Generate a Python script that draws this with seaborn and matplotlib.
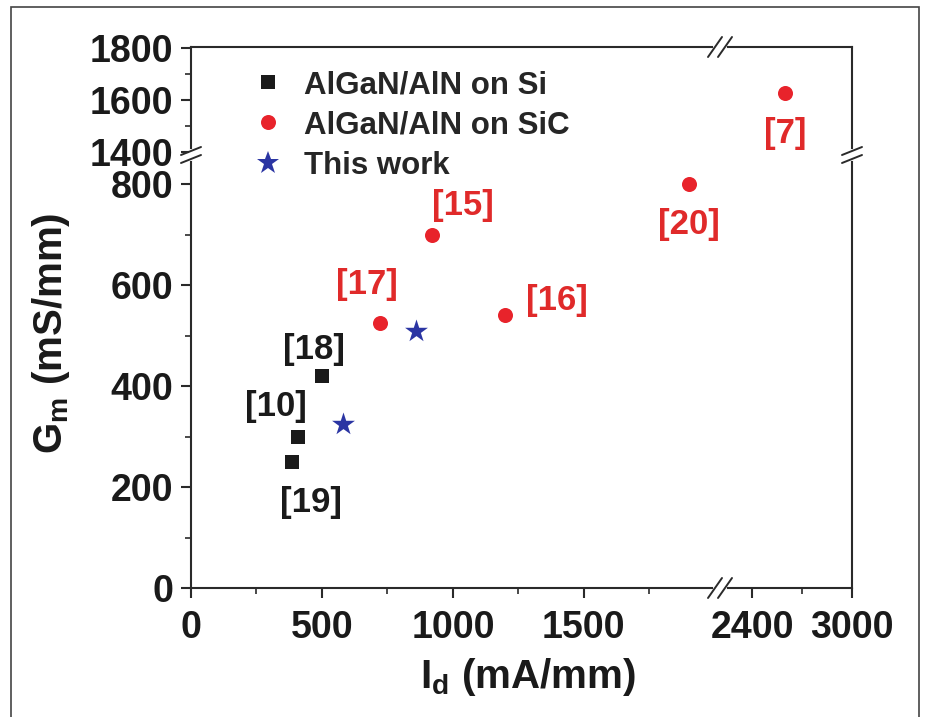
import matplotlib
matplotlib.use("Agg")
import matplotlib.pyplot as plt
import seaborn as sns
import pandas as pd
from matplotlib.lines import Line2D
from matplotlib.patches import Rectangle

sns.set_style('ticks')
plt.rcParams['font.family'] = ['Liberation Sans', 'DejaVu Sans']
plt.rcParams['font.weight'] = 'bold'
plt.rcParams['mathtext.fontset'] = 'custom'
plt.rcParams['mathtext.rm'] = 'Liberation Sans:bold'
plt.rcParams['mathtext.bf'] = 'Liberation Sans:bold'
plt.rcParams['mathtext.it'] = 'Liberation Sans:bold:italic'

# data
si_x = [385, 410, 500]
si_y = [250, 300, 420]
si_ref = ['[19]', '[10]', '[18]']

sic_x = [720, 920, 1200, 1900, 2600]
sic_y = [525, 700, 540, 800, 1625]
sic_ref = ['[17]', '[15]', '[16]', '[20]', '[7]']

tw_x = [580, 860]
tw_y = [325, 510]

groups = ['AlGaN/AlN on Si', 'AlGaN/AlN on SiC', 'This work']

df = pd.concat([
    pd.DataFrame({'Id': si_x, 'Gm': si_y, 'group': groups[0], 'ref': si_ref}),
    pd.DataFrame({'Id': sic_x, 'Gm': sic_y, 'group': groups[1], 'ref': sic_ref}),
    pd.DataFrame({'Id': tw_x, 'Gm': tw_y, 'group': groups[2], 'ref': ''}),
], ignore_index=True)

colors = {groups[0]: '#1a1a1a', groups[1]: '#e8232b', groups[2]: '#2b35a3'}
markers = {groups[0]: 's', groups[1]: 'o', groups[2]: '*'}
msize = {groups[0]: 88, groups[1]: 117, groups[2]: 300}

# label offsets (points) from each point
label_off = {'[19]': (14, -29), '[10]': (-16, 22), '[18]': (-6, 19),
             '[17]': (-9, 28), '[15]': (22, 21), '[16]': (37, 11),
             '[20]': (0, -29), '[7]': (0, -29)}

W, H = 927, 717
fig = plt.figure(figsize=(W / 100, H / 100), dpi=100)
gs = fig.add_gridspec(2, 2, left=191 / W, right=852 / W, top=1 - 47 / H, bottom=1 - 588 / H,
                      height_ratios=[108, 433], width_ratios=[529, 132], hspace=0, wspace=0)
ax_tl = fig.add_subplot(gs[0, 0])
ax_tr = fig.add_subplot(gs[0, 1])
ax_bl = fig.add_subplot(gs[1, 0])
ax_br = fig.add_subplot(gs[1, 1])
axes = [ax_tl, ax_tr, ax_bl, ax_br]

spine_col = '#2a2a2a'
for ax in axes:
    for g in groups:
        sub = df[df['group'] == g]
        sns.scatterplot(data=sub, x='Id', y='Gm', ax=ax, color=colors[g], marker=markers[g],
                        s=msize[g], linewidth=0, legend=False, zorder=3)
    for _, r in df[df['ref'] != ''].iterrows():
        c = '#1a1a1a' if r['group'] == groups[0] else '#e02a2a'
        ax.annotate(r['ref'], (r['Id'], r['Gm']), xytext=label_off[r['ref']],
                    textcoords='offset points', ha='center', va='center',
                    fontsize=25, fontweight='bold', color=c)
    ax.set_xlabel('')
    ax.set_ylabel('')
    for s in ax.spines.values():
        s.set_linewidth(1.5)
        s.set_color(spine_col)
    ax.tick_params(which='major', length=7, width=1.5, color=spine_col, labelsize=27,
                   pad=6, labelcolor='#1a1a1a')
    ax.tick_params(which='minor', length=4, width=1.2, color=spine_col)
    ax.patch.set_alpha(0)

ax_tl.set_xlim(0, 2020)
ax_bl.set_xlim(0, 2020)
ax_tr.set_xlim(2208, 3000)
ax_br.set_xlim(2208, 3000)
ax_tl.set_ylim(1387, 1802)
ax_tr.set_ylim(1387, 1802)
ax_bl.set_ylim(0, 858)
ax_br.set_ylim(0, 858)

ax_tl.spines[['bottom', 'right']].set_visible(False)
ax_tr.spines[['bottom', 'left']].set_visible(False)
ax_bl.spines[['top', 'right']].set_visible(False)
ax_br.spines[['top', 'left']].set_visible(False)

ax_tl.set_xticks([])
ax_tr.set_xticks([])
ax_tr.set_yticks([])
ax_br.set_yticks([])
ax_tl.set_yticks([1400, 1600, 1800])
ax_tl.set_yticks([1500, 1700], minor=True)
ax_bl.set_yticks([0, 200, 400, 600, 800])
ax_bl.set_yticks([100, 300, 500, 700], minor=True)
ax_bl.set_xticks([0, 500, 1000, 1500])
ax_bl.set_xticks([250, 750, 1250, 1750], minor=True)
ax_br.set_xticks([2400, 3000])
ax_br.set_xticks([2700], minor=True)
ax_bl.tick_params(axis='x', pad=9)
ax_br.tick_params(axis='x', pad=9)


def px(x, y):
    return x / W, 1 - y / H


def brk(xc, yc, horiz):
    # white gap on spine plus two slashes
    if horiz:
        gap = Line2D([px(xc - 5, 0)[0], px(xc + 5, 0)[0]], [px(0, yc)[1]] * 2,
                     color='white', lw=3, transform=fig.transFigure, zorder=10)
        fig.add_artist(gap)
        for o in (-5, 5):
            x0, y0 = px(xc + o - 7, yc + 10)
            x1, y1 = px(xc + o + 7, yc - 10)
            fig.add_artist(Line2D([x0, x1], [y0, y1], color=spine_col, lw=1.4,
                                  transform=fig.transFigure, zorder=11))
    else:
        gap = Line2D([px(xc, 0)[0]] * 2, [px(0, yc - 4)[1], px(0, yc + 4)[1]],
                     color='white', lw=3, transform=fig.transFigure, zorder=10)
        fig.add_artist(gap)
        for o in (-4, 4):
            x0, y0 = px(xc - 10, yc + o + 4)
            x1, y1 = px(xc + 10, yc + o - 4)
            fig.add_artist(Line2D([x0, x1], [y0, y1], color=spine_col, lw=1.4,
                                  transform=fig.transFigure, zorder=11))


brk(720, 47, True)
brk(720, 588, True)
brk(191, 155, False)
brk(852, 155, False)

handles = [Line2D([], [], ls='', marker=markers[g], color=colors[g],
                  markersize={'s': 9.4, 'o': 10.8, '*': 17}[markers[g]], markeredgewidth=0)
           for g in groups]
fig.legend(handles, groups, loc='upper left', bbox_to_anchor=px(252, 70), frameon=False,
           handlelength=1.0, handletextpad=0.65, labelspacing=0.33,
           borderpad=0, borderaxespad=0, prop={'weight': 'bold', 'size': 22.5})

fig.text(*px(51, 333), 'G$_\\mathrm{m}$ (mS/mm)', rotation=90, ha='center', va='center',
         fontsize=29, fontweight='bold', color='#1a1a1a')
fig.text(*px(528, 677), 'I$_\\mathrm{d}$ (mA/mm)', ha='center', va='center',
         fontsize=29, fontweight='bold', color='#1a1a1a')

fig.add_artist(Rectangle(px(11, 730), (919 - 11) / W, (730 - 7) / H, fill=False,
                         edgecolor='#444444', lw=1.2, transform=fig.transFigure))

fig.savefig('out.png', dpi=100)
